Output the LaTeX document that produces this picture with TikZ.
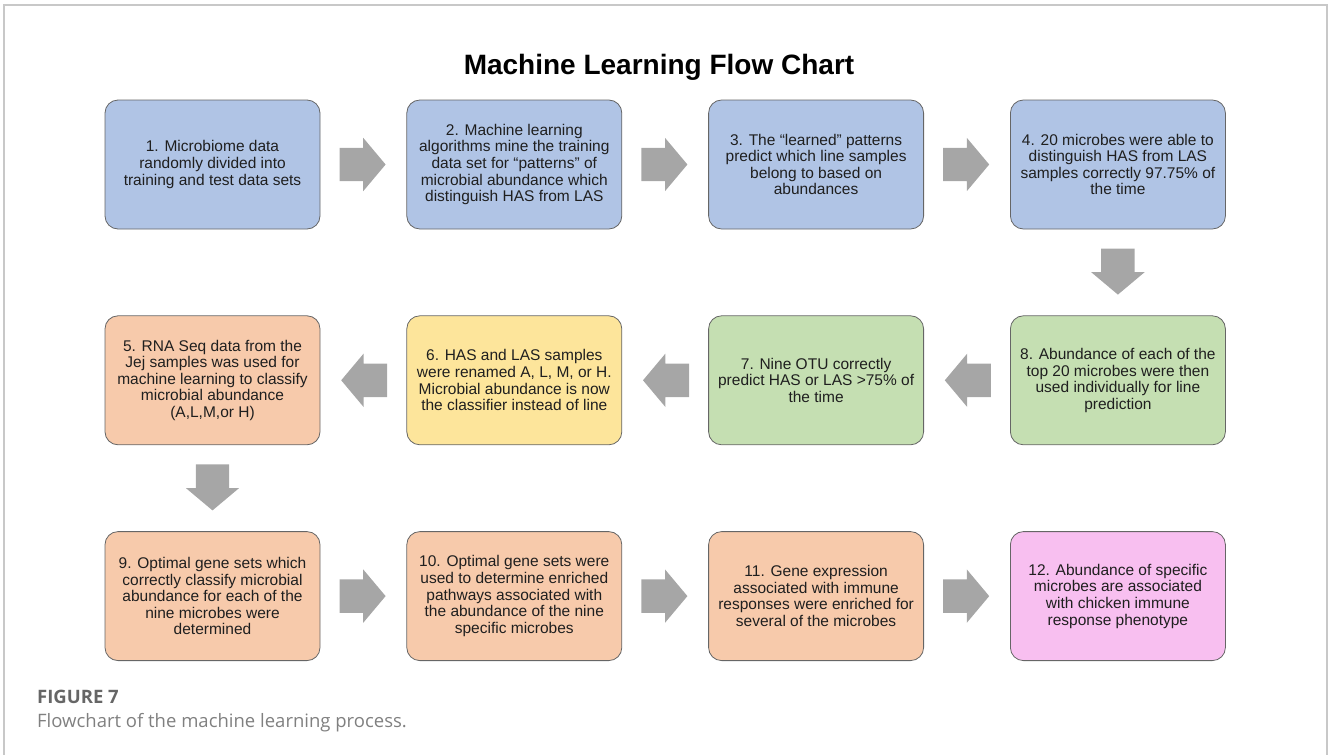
\documentclass[tikz,border=0pt]{standalone}
\usepackage{fontspec}
\setmainfont{Liberation Sans}
\newfontfamily\capfont{Open Sans}
\usepackage{tikz}
\usetikzlibrary{positioning,calc,shapes.arrows}

\definecolor{boxblue}{HTML}{B0C4E5}
\definecolor{boxorange}{HTML}{F7CAAB}
\definecolor{boxyellow}{HTML}{FDE59B}
\definecolor{boxgreen}{HTML}{C5DFB2}
\definecolor{boxpink}{HTML}{F8BFF0}
\definecolor{arrowgray}{HTML}{A6A6A6}
\definecolor{framegray}{HTML}{C8C8C8}

\begin{document}
\begin{tikzpicture}
[
    x = 1pt, y = -1pt,
    stage/.style = {draw = black!60, line width = 0.8pt, rounded corners = 13pt,
                    minimum width = 215pt, minimum height = 129pt, inner sep = 0pt,
                    align = center, text = black!88,
                    font = \fontsize{15.5}{16.6}\selectfont},
    flowarrow/.style = {single arrow, fill = arrowgray, draw = none, anchor = tail,
                        inner xsep = 0pt, inner ysep = 16.5pt,
                        minimum height = 46pt, minimum width = 53pt,
                        single arrow head extend = 10pt, single arrow tip angle = 100},
]
    \useasboundingbox (0,0) rectangle (1328,755);
    \draw[framegray, line width = 1.5pt] (4,756) -- (4,5) -- (1327,5) -- (1327,756);

    \node (title) at (659,67) {\fontsize{28}{30}\selectfont\bfseries Machine Learning Flow Chart};

    % first row
    \node[stage, fill = boxblue] (s1) at (212.5,164.5)
        {1. Microbiome data\\randomly divided into\\training and test data sets};
    \node[stage, fill = boxblue, right = 86pt of s1] (s2)
        {2. Machine learning\\algorithms mine the training\\data set for “patterns” of\\microbial abundance which\\distinguish HAS from LAS};
    \node[stage, fill = boxblue, right = 86pt of s2] (s3)
        {3. The “learned” patterns\\predict which line samples\\belong to based on\\abundances};
    \node[stage, fill = boxblue, right = 86pt of s3] (s4)
        {4. 20 microbes were able to\\distinguish HAS from LAS\\samples correctly 97.75\% of\\the time};

    % second row
    \node[stage, fill = boxgreen, below = 86pt of s4] (s8)
        {8. Abundance of each of the\\top 20 microbes were then\\used individually for line\\prediction};
    \node[stage, fill = boxgreen, left = 86pt of s8] (s7)
        {7. Nine OTU correctly\\predict HAS or LAS >75\% of\\the time};
    \node[stage, fill = boxyellow, left = 86pt of s7] (s6)
        {6. HAS and LAS samples\\were renamed A, L, M, or H.\\Microbial abundance is now\\the classifier instead of line};
    \node[stage, fill = boxorange, left = 86pt of s6] (s5)
        {5. RNA Seq data from the\\Jej samples was used for\\machine learning to classify\\microbial abundance\\(A,L,M,or H)};

    % third row
    \node[stage, fill = boxorange, below = 86pt of s5] (s9)
        {9. Optimal gene sets which\\correctly classify microbial\\abundance for each of the\\nine microbes were\\determined};
    \node[stage, fill = boxorange, right = 86pt of s9] (s10)
        {10. Optimal gene sets were\\used to determine enriched\\pathways associated with\\the abundance of the nine\\specific microbes};
    \node[stage, fill = boxorange, right = 86pt of s10] (s11)
        {11. Gene expression\\associated with immune\\responses were enriched for\\several of the microbes};
    \node[stage, fill = boxpink, right = 86pt of s11] (s12)
        {12. Abundance of specific\\microbes are associated\\with chicken immune\\response phenotype};

    % block arrows between the stages
    \node[flowarrow] (a12) at ($(s1.east)!19pt!(s2.west)$) {};
    \node[flowarrow] (a23) at ($(s2.east)!19pt!(s3.west)$) {};
    \node[flowarrow] (a34) at ($(s3.east)!19pt!(s4.west)$) {};
    \node[flowarrow, rotate = 270] (a48) at ($(s4.south)!19pt!(s8.north)$) {};
    \node[flowarrow, rotate = 180] (a87) at ($(s8.west)!19pt!(s7.east)$) {};
    \node[flowarrow, rotate = 180] (a76) at ($(s7.west)!19pt!(s6.east)$) {};
    \node[flowarrow, rotate = 180] (a65) at ($(s6.west)!19pt!(s5.east)$) {};
    \node[flowarrow, rotate = 270] (a59) at ($(s5.south)!19pt!(s9.north)$) {};
    \node[flowarrow] (a910) at ($(s9.east)!19pt!(s10.west)$) {};
    \node[flowarrow] (a1011) at ($(s10.east)!19pt!(s11.west)$) {};
    \node[flowarrow] (a1112) at ($(s11.east)!19pt!(s12.west)$) {};

    % caption
    \node[anchor = base west, inner sep = 0pt, text = black!60] (fig) at (37,703)
        {\capfont\bfseries\fontsize{18.5}{22}\selectfont FIGURE 7};
    \node[anchor = base west, inner sep = 0pt, text = black!50] (cap) at (37,727)
        {\capfont\fontsize{18.5}{20}\selectfont Flowchart of the machine learning process.};
\end{tikzpicture}
\end{document}
